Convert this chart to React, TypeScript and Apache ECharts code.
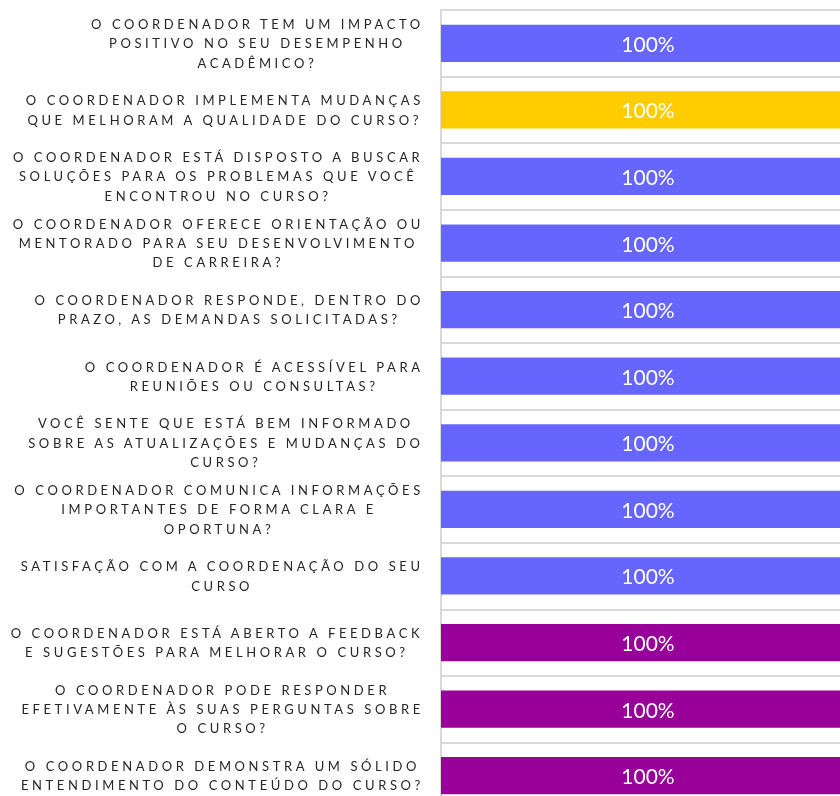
import React, { useEffect, useRef } from 'react';
import * as echarts from 'echarts';

const categories: string[] = [
  'O COORDENADOR TEM UM IMPACTO\nPOSITIVO NO SEU DESEMPENHO\nACADÊMICO?',
  'O COORDENADOR IMPLEMENTA MUDANÇAS\nQUE MELHORAM A QUALIDADE DO CURSO?',
  'O COORDENADOR ESTÁ DISPOSTO A BUSCAR\nSOLUÇÕES PARA OS PROBLEMAS QUE VOCÊ\nENCONTROU NO CURSO?',
  'O COORDENADOR OFERECE ORIENTAÇÃO OU\nMENTORADO PARA SEU DESENVOLVIMENTO\nDE CARREIRA?',
  'O COORDENADOR RESPONDE, DENTRO DO\nPRAZO, AS DEMANDAS SOLICITADAS?',
  'O COORDENADOR É ACESSÍVEL PARA\nREUNIÕES OU CONSULTAS?',
  'VOCÊ SENTE QUE ESTÁ BEM INFORMADO\nSOBRE AS ATUALIZAÇÕES E MUDANÇAS DO\nCURSO?',
  'O COORDENADOR COMUNICA INFORMAÇÕES\nIMPORTANTES DE FORMA CLARA E\nOPORTUNA?',
  'SATISFAÇÃO COM A COORDENAÇÃO DO SEU\nCURSO',
  'O COORDENADOR ESTÁ ABERTO A FEEDBACK\nE SUGESTÕES PARA MELHORAR O CURSO?',
  'O COORDENADOR PODE RESPONDER\nEFETIVAMENTE ÀS SUAS PERGUNTAS SOBRE\nO CURSO?',
  'O COORDENADOR DEMONSTRA UM SÓLIDO\nENTENDIMENTO DO CONTEÚDO DO CURSO?',
];

const values: number[] = [100, 100, 100, 100, 100, 100, 100, 100, 100, 100, 100, 100];

const barColors: string[] = [
  '#6666FF', '#FFCC00', '#6666FF', '#6666FF', '#6666FF', '#6666FF',
  '#6666FF', '#6666FF', '#6666FF', '#990099', '#990099', '#990099',
];

const LABEL_FONT = 'Lato';
const LABEL_SIZE = 13;
const LETTER_SPACING = 3.6;
const LABEL_COLOR = '#262626';

function measureLine(text: string): number {
  const canvas = document.createElement('canvas');
  const ctx = canvas.getContext('2d');
  if (!ctx) return text.length * 8;
  ctx.font = `${LABEL_SIZE}px ${LABEL_FONT}`;
  return ctx.measureText(text).width + LETTER_SPACING * text.length;
}

export default function App() {
  const ref = useRef<HTMLDivElement>(null);

  useEffect(() => {
    if (!ref.current) return;
    const styleEl = document.createElement('style');
    styleEl.textContent = `#chart-root text[fill="${LABEL_COLOR}"]{letter-spacing:${LETTER_SPACING}px;}`;
    document.head.appendChild(styleEl);
    document.body.style.overflow = 'hidden';

    const chart = echarts.init(ref.current, null, { renderer: 'svg' });

    const rich: Record<string, any> = {};
    categories.forEach((c, i) => {
      const lines = c.split('\n');
      const w = Math.max(...lines.map(measureLine));
      rich['l' + i] = {
        width: w,
        align: 'center',
        fontFamily: LABEL_FONT,
        fontSize: LABEL_SIZE,
        lineHeight: 19.3,
        color: LABEL_COLOR,
      };
    });

    chart.setOption({
      animation: false,
      grid: {
        left: 441,
        top: 10,
        right: -15,
        bottom: -13,
        containLabel: false,
        outerBoundsMode: 'none',
      },
      xAxis: {
        type: 'value',
        min: 0,
        max: 100,
        show: false,
      },
      yAxis: {
        type: 'category',
        inverse: true,
        data: categories,
        axisLine: { show: true, lineStyle: { color: '#d9d9d9', width: 2 } },
        axisTick: { show: false },
        splitLine: { show: true, lineStyle: { color: '#d9d9d9', width: 2 } },
        axisLabel: {
          interval: 0,
          margin: 17,
          color: LABEL_COLOR,
          fontFamily: LABEL_FONT,
          fontSize: LABEL_SIZE,
          formatter: (value: string, index: number) =>
            value
              .split('\n')
              .map((l) => `{l${index}|${l}}`)
              .join('\n'),
          rich,
        },
      },
      series: [
        {
          type: 'bar',
          data: values.map((v, i) => ({ value: v, itemStyle: { color: barColors[i] } })),
          barWidth: '56%',
          label: {
            show: true,
            position: 'inside',
            formatter: '{c}%',
            color: '#ffffff',
            fontSize: 21,
            fontFamily: 'Lato',
          },
        },
      ],
    });

    return () => {
      chart.dispose();
      styleEl.remove();
    };
  }, []);

  return (
    <div
      id="chart-root"
      ref={ref}
      style={{ position: 'fixed', left: 0, top: 0, width: 840, height: 796 }}
    />
  );
}
